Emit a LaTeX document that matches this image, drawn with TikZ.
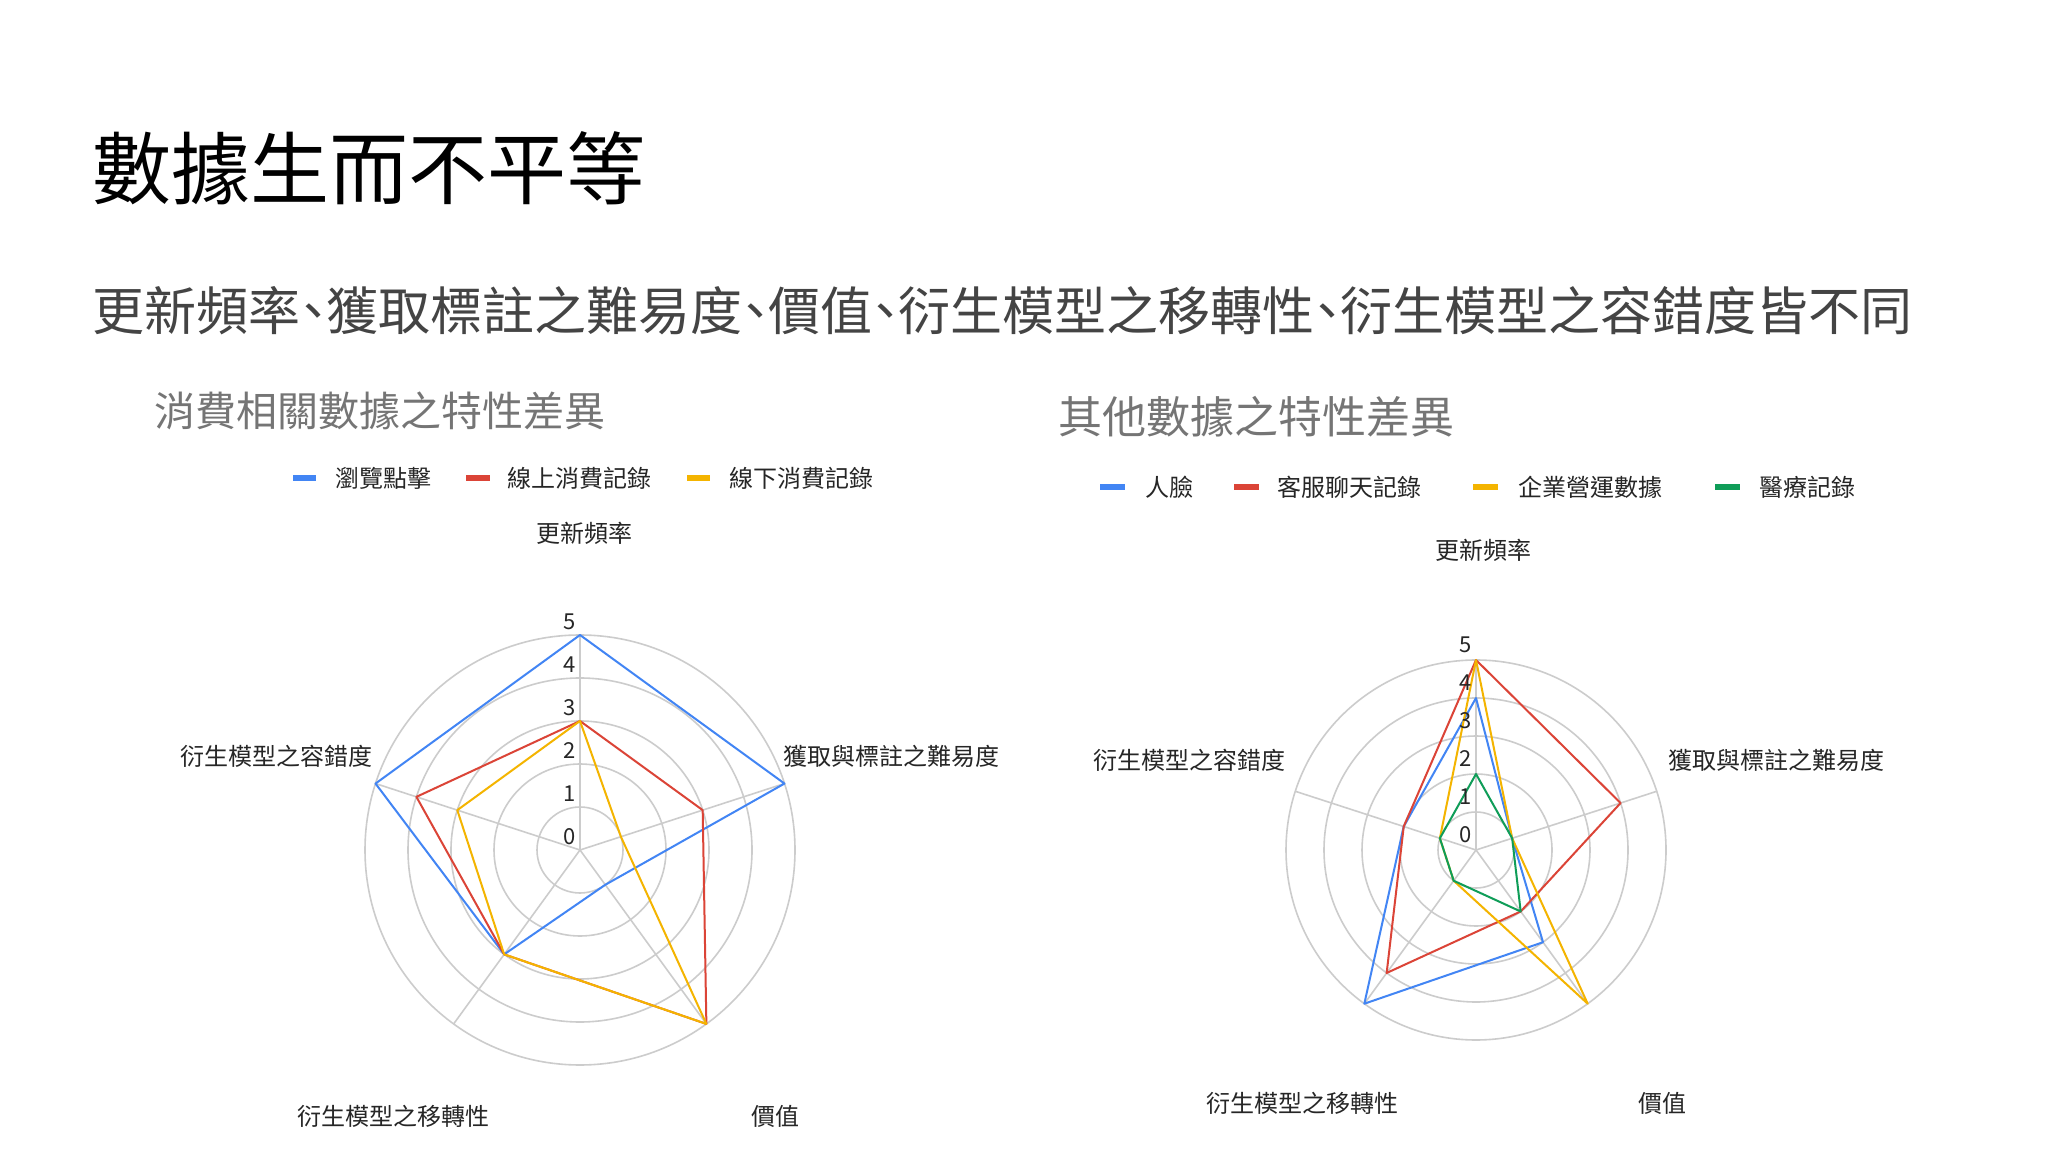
\documentclass[tikz,border=0pt]{standalone}
\usepackage{fontspec}
\setmainfont{Noto Sans CJK TC}
\newfontfamily\cjk{Noto Sans CJK TC}
\definecolor{gblue}{HTML}{4285F4}
\definecolor{gred}{HTML}{DB4437}
\definecolor{gyellow}{HTML}{F4B400}
\definecolor{ggreen}{HTML}{0F9D58}
\definecolor{gridc}{HTML}{CCCCCC}
\definecolor{subc}{HTML}{444444}
\definecolor{ctitle}{HTML}{757575}
\newcommand{\fs}[1]{\fontsize{#1}{#1}\selectfont}
\newcommand{\hc}{\makebox[0.5em][c]{、}}
\newcommand{\radargrid}[3]{% name, center, unit
  \foreach \k in {1,...,5} {\draw[gridline] (#2) circle ({\k*#3});}
  \foreach \a in {90,18,-54,-126,162} {\draw[gridline] (#2) -- ++(\a:{5*#3});}
}
\newcommand{\radarpoly}[9]{% name center unit color v1..v5
  \coordinate (#1a) at ($(#2)+(90:{#5*#3})$);
  \coordinate (#1b) at ($(#2)+(18:{#6*#3})$);
  \coordinate (#1c) at ($(#2)+(-54:{#7*#3})$);
  \coordinate (#1d) at ($(#2)+(-126:{#8*#3})$);
  \coordinate (#1e) at ($(#2)+(162:{#9*#3})$);
  \draw[#4, line width=2pt, line join=round] (#1a) -- (#1b) -- (#1c) -- (#1d) -- (#1e) -- cycle;
}
\usetikzlibrary{calc}
\tikzset{
  gridline/.style={gridc, line width=1.6pt},
  axlabel/.style={font=\fs{24}, text=black!85, inner sep=0pt},
  numlabel/.style={font=\fs{22}, text=black!85, inner sep=0pt},
  legtext/.style={font=\fs{24}, text=black!85, anchor=west, inner sep=0pt},
  legmark/.style={line width=6pt},
}
\begin{document}
\begin{tikzpicture}[x=1pt,y=1pt]
\useasboundingbox[fill=white] (0,0) rectangle (2048,1152);
\node[anchor=west, inner sep=0pt, font=\fs{79}] (title) at (92,984) {數據生而不平等};
\node[anchor=west, inner sep=0pt, font=\fs{52}, text=subc] (sub) at (92,841) {更新頻率\hc 獲取標註之難易度\hc 價值\hc 衍生模型之移轉性\hc 衍生模型之容錯度皆不同};
\node[anchor=west, inner sep=0pt, font=\fs{41}, text=ctitle] (lt) at (154,741) {消費相關數據之特性差異};
\node[anchor=west, inner sep=0pt, font=\fs{44}, text=ctitle] (rt) at (1058,735) {其他數據之特性差異};
% left legend
\coordinate (lm1a) at (293,674); \coordinate (lm1b) at (316,674);
\coordinate (lm2a) at (466,674); \coordinate (lm2b) at (490,674);
\coordinate (lm3a) at (687,674); \coordinate (lm3b) at (710,674);
\draw[legmark,gblue] (lm1a) -- (lm1b);
\draw[legmark,gred] (lm2a) -- (lm2b);
\draw[legmark,gyellow] (lm3a) -- (lm3b);
\node[legtext] (l1) at (335,674) {瀏覽點擊};
\node[legtext] (l2) at (507,674) {線上消費記錄};
\node[legtext] (l3) at (729,674) {線下消費記錄};
% right legend
\coordinate (rm1a) at (1100,665); \coordinate (rm1b) at (1125,665);
\coordinate (rm2a) at (1234,665); \coordinate (rm2b) at (1259,665);
\coordinate (rm3a) at (1473,665); \coordinate (rm3b) at (1498,665);
\coordinate (rm4a) at (1715,665); \coordinate (rm4b) at (1740,665);
\draw[legmark,gblue] (rm1a) -- (rm1b);
\draw[legmark,gred] (rm2a) -- (rm2b);
\draw[legmark,gyellow] (rm3a) -- (rm3b);
\draw[legmark,ggreen] (rm4a) -- (rm4b);
\node[legtext] (r1) at (1145,665) {人臉};
\node[legtext] (r2) at (1277,665) {客服聊天記錄};
\node[legtext] (r3) at (1518,665) {企業營運數據};
\node[legtext] (r4) at (1759,665) {醫療記錄};
% left chart
\coordinate (LC) at (580,302);
\radargrid{L}{LC}{43}
\radarpoly{LB}{LC}{43}{gblue}{5}{5}{1}{3}{5}
\radarpoly{LR}{LC}{43}{gred}{3}{3}{5}{3}{4}
\radarpoly{LY}{LC}{43}{gyellow}{3}{1}{5}{3}{3}
\foreach \k in {0,...,5} {\node[numlabel] (ln\k) at (570,{302+\k*43+13}) {\k};}
\node[axlabel] (la1) at (584,619) {更新頻率};
\node[axlabel] (la2) at (891,396) {獲取與標註之難易度};
\node[axlabel] (la3) at (775,36) {價值};
\node[axlabel] (la4) at (393,36) {衍生模型之移轉性};
\node[axlabel] (la5) at (276,396) {衍生模型之容錯度};
% right chart
\coordinate (RC) at (1476,302);
\radargrid{R}{RC}{38}
\radarpoly{RB}{RC}{38}{gblue}{4}{1}{3}{5}{2}
\radarpoly{RR}{RC}{38}{gred}{5}{4}{2}{4}{2}
\radarpoly{RY}{RC}{38}{gyellow}{5}{1}{5}{1}{1}
\radarpoly{RG}{RC}{38}{ggreen}{2}{1}{2}{1}{1}
\foreach \k in {0,...,5} {\node[numlabel] (rn\k) at (1466,{302+\k*38+15}) {\k};}
\node[axlabel] (ra1) at (1483,602) {更新頻率};
\node[axlabel] (ra2) at (1776,392) {獲取與標註之難易度};
\node[axlabel] (ra3) at (1662,49) {價值};
\node[axlabel] (ra4) at (1302,49) {衍生模型之移轉性};
\node[axlabel] (ra5) at (1189,392) {衍生模型之容錯度};
\end{tikzpicture}
\end{document}
